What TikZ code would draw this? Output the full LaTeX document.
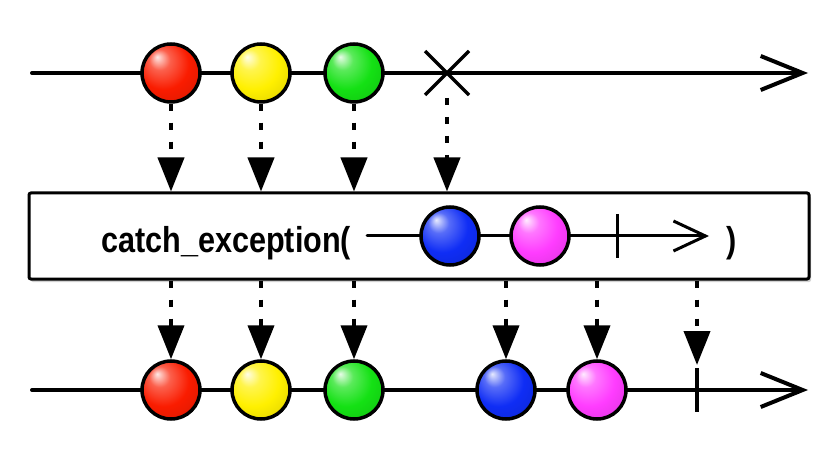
\documentclass[tikz,border=0pt]{standalone}
\usepackage{fontspec}
\setmainfont{Liberation Sans}
\newfontfamily\opfont[FakeStretch=0.85]{Liberation Sans}
\usetikzlibrary{arrows.meta, shadows}

\definecolor{marblered}{RGB}{250,28,0}
\definecolor{marbleyellow}{RGB}{255,240,0}
\definecolor{marblegreen}{RGB}{20,225,20}
\definecolor{marbleblue}{RGB}{15,45,245}
\definecolor{marblepink}{RGB}{255,60,255}

\makeatletter
\pgfdeclareradialshading[tikz@ball]{glossy}{\pgfpoint{-12bp}{14bp}}{%
  color(0bp)=(tikz@ball!10!white); color(9bp)=(tikz@ball!70!white);
  color(22bp)=(tikz@ball); color(40bp)=(tikz@ball!85!black);
  color(50bp)=(tikz@ball!65!black)}
\makeatother

\begin{document}
\begin{tikzpicture}[x=1pt, y=-1pt,
  marble/.style={circle, draw, line width=3.5pt, minimum size=58pt, inner sep=0pt, ball color=#1, shading=glossy},
  timeline/.style={line width=4pt, line cap=round, -{Straight Barb[length=42pt, width=34pt]}},
  innerline/.style={line width=3pt, line cap=round, -{Straight Barb[length=32pt, width=30pt]}},
  stroke/.style={line width=3.5pt},
  dotarr/.style={line width=4pt, dash pattern=on 7pt off 12pt, -{Triangle[length=34pt, width=26pt]}},
  opbox/.style={rectangle, draw, line width=3pt, rounded corners=2pt, fill=white, minimum width=780pt, minimum height=86pt,
    drop shadow={opacity=.35, shadow xshift=2pt, shadow yshift=-3pt}},
  label/.style={anchor=base west, inner sep=0pt, font=\opfont\fontsize{36}{40}\selectfont\bfseries}
]
\fill[white] (0,0) rectangle (840,454);
\useasboundingbox (0,0) rectangle (840,454);

% source stream
\coordinate (tstart) at (32,73);
\coordinate (tend) at (808,73);
\coordinate (terr) at (447,73);
\draw[timeline] (tstart) -- (tend);
\node[marble=marblered] (t1) at (171,73) {};
\node[marble=marbleyellow] (t2) at (261,73) {};
\node[marble=marblegreen] (t3) at (354,73) {};
\draw[stroke] ([shift={(-22,-22)}]terr) -- ([shift={(22,22)}]terr);
\draw[stroke] ([shift={(-22,22)}]terr) -- ([shift={(22,-22)}]terr);

% operator
\node[opbox] (op) at (419,236) {};
\node[label] (optext) at (101,253) {catch\_exception(};
\coordinate (istart) at (367,236);
\coordinate (iend) at (709,236);
\coordinate (iterm) at (617,236);
\draw[innerline] (istart) -- (iend);
\node[marble=marbleblue] (ib) at (450,236) {};
\node[marble=marblepink] (ip) at (540,236) {};
\draw[line width=3pt] ([yshift=22pt]iterm) -- ([yshift=-22pt]iterm);
\node[label] (close) at (726,253) {)};

% result stream
\coordinate (bstart) at (32,390);
\coordinate (bend) at (808,390);
\coordinate (bterm) at (697,390);
\draw[timeline] (bstart) -- (bend);
\node[marble=marblered] (b1) at (171,390) {};
\node[marble=marbleyellow] (b2) at (261,390) {};
\node[marble=marblegreen] (b3) at (354,390) {};
\node[marble=marbleblue] (b4) at (506,390) {};
\node[marble=marblepink] (b5) at (597,390) {};
\draw[stroke] ([yshift=22pt]bterm) -- ([yshift=-22pt]bterm);

% arrows in
\draw[dotarr] (t1.south) -- (t1 |- op.north);
\draw[dotarr] (t2.south) -- (t2 |- op.north);
\draw[dotarr] (t3.south) -- (t3 |- op.north);
\draw[dotarr] ([yshift=-25pt]terr) -- (terr |- op.north);

% arrows out
\draw[dotarr] (b1 |- op.south) -- (b1.north);
\draw[dotarr] (b2 |- op.south) -- (b2.north);
\draw[dotarr] (b3 |- op.south) -- (b3.north);
\draw[dotarr] (b4 |- op.south) -- (b4.north);
\draw[dotarr] (b5 |- op.south) -- (b5.north);
\draw[dotarr] (bterm |- op.south) -- ([yshift=25pt]bterm);
\end{tikzpicture}
\end{document}
